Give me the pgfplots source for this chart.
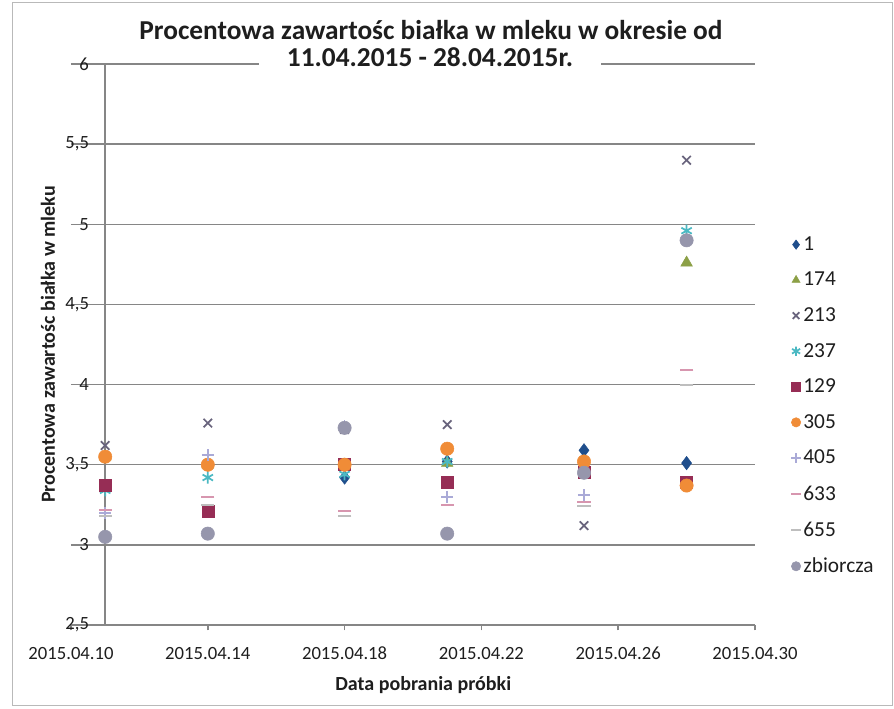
\documentclass[border=0pt]{standalone}
\usepackage{pgfplots}
\pgfplotsset{compat=1.18}
\usepackage{fontspec}
\setmainfont{Carlito}
\definecolor{gridc}{RGB}{134,134,134}
\definecolor{labc}{RGB}{30,30,30}
\definecolor{cA}{RGB}{31,78,140}
\definecolor{cB}{RGB}{140,160,70}
\definecolor{cC}{RGB}{105,100,125}
\definecolor{cD}{RGB}{75,185,195}
\definecolor{cE}{RGB}{150,45,85}
\definecolor{cF}{RGB}{240,140,55}
\definecolor{cG}{RGB}{170,170,215}
\definecolor{cH}{RGB}{215,150,175}
\definecolor{cI}{RGB}{190,190,190}
\definecolor{cJ}{RGB}{150,150,172}
\begin{document}
\begin{tikzpicture}
\path[fill=white] (0,0) rectangle (670.5pt,-531.75pt);
\draw[gray!55, line width=0.75pt] (9pt,-2.25pt) rectangle (669pt,-529.5pt);
\begin{axis}[
  at={(53.25pt,-468.75pt)}, anchor=south west,
  scale only axis, width=513pt, height=420.75pt,
  xmin=10, xmax=30, ymin=2.5, ymax=6,
  xtick={10,14,18,22,26,30},
  xticklabels={2015.04.10,2015.04.14,2015.04.18,2015.04.22,2015.04.26,2015.04.30},
  ytick={2.5,3,3.5,4,4.5,5,5.5,6},
  /pgf/number format/fixed, /pgf/number format/use comma, /pgf/number format/precision=1,
  /pgf/number format/assume math mode=true,
  ymajorgrids, grid style={gridc, line width=1.1pt},
  axis x line*=bottom, axis y line*=left,
  x axis line style={gridc, line width=1.1pt, -},
  y axis line style={draw=none},
  xtick style={gridc, line width=1.1pt}, tick align=outside, major tick length=4pt,
  ytick style={draw=none},
  tick label style={font=\fontsize{14}{16}\selectfont, text=labc},
  yticklabel style={anchor=east, xshift=21pt},
  xticklabel style={yshift=-9pt},
  xlabel={Data pobrania próbki},
  ylabel={Procentowa zawartośc białka w mleku},
  label style={font=\bfseries\fontsize{15}{18}\selectfont, text=labc},
  xlabel style={at={(axis description cs:0.515,-0.107)}, anchor=center},
  ylabel style={at={(axis description cs:-0.0336,0.5)}, anchor=center},
  legend style={at={(axis description cs:1.047,0.702)}, anchor=north west, draw=none, fill=none,
    font=\fontsize{16}{18}\selectfont, text=labc, row sep=10.8pt},
  legend image post style={mark size=3.5pt},
  legend cell align=left,
  clip=false,
]
\draw[gridc, line width=1.1pt] (axis cs:11,2.5) -- (axis cs:11,6);
\addplot[only marks, mark=diamond*, mark size=5pt, mark options={draw=cA, fill=cA}] coordinates {(11,3.55)(14,3.5)(18,3.42)(21,3.52)(25,3.59)(28,3.51)};
\addlegendentry{1}
\addplot[only marks, mark=triangle*, mark size=5pt, mark options={draw=cB, fill=cB}] coordinates {(11,3.55)(14,3.5)(18,3.5)(21,3.51)(25,3.52)(28,4.76)};
\addlegendentry{174}
\addplot[only marks, mark=x, mark size=4.5pt, mark options={draw=cC, line width=1.3pt}] coordinates {(11,3.62)(14,3.76)(18,3.72)(21,3.75)(25,3.12)(28,5.40)};
\addlegendentry{213}
\addplot[only marks, mark=asterisk, mark size=4.5pt, mark options={draw=cD, line width=1.3pt}] coordinates {(11,3.34)(14,3.42)(18,3.44)(21,3.52)(25,3.45)(28,4.96)};
\addlegendentry{237}
\addplot[only marks, mark=square*, mark size=4.5pt, mark options={draw=cE, fill=cE}] coordinates {(11,3.37)(14,3.21)(18,3.5)(21,3.39)(25,3.45)(28,3.39)};
\addlegendentry{129}
\addplot[only marks, mark=*, mark size=5pt, mark options={draw=cF, fill=cF}] coordinates {(11,3.55)(14,3.5)(18,3.5)(21,3.6)(25,3.52)(28,3.37)};
\addlegendentry{305}
\addplot[only marks, mark=+, mark size=4.5pt, mark options={draw=cG, line width=1.3pt}] coordinates {(11,3.2)(14,3.56)(18,3.74)(21,3.3)(25,3.31)(28,4.9)};
\addlegendentry{405}
\addplot[only marks, mark=-, mark size=5pt, mark options={draw=cH, line width=1.6pt}] coordinates {(11,3.22)(14,3.3)(18,3.21)(21,3.25)(25,3.27)(28,4.09)};
\addlegendentry{633}
\addplot[only marks, mark=-, mark size=5pt, mark options={draw=cI, line width=1.6pt}] coordinates {(11,3.18)(14,3.25)(18,3.18)(21,3.07)(25,3.24)(28,4.0)};
\addlegendentry{655}
\addplot[only marks, mark=*, mark size=5pt, mark options={draw=cJ, fill=cJ}] coordinates {(11,3.05)(14,3.07)(18,3.73)(21,3.07)(25,3.45)(28,4.9)};
\addlegendentry{zbiorcza}
\end{axis}
\begin{scope}[x=0.75pt,y=-0.75pt]
\node[font=\bfseries\fontsize{20.5}{24}\selectfont, text=labc] at (431,30) {Procentowa zawartośc białka w mleku w okresie od};
\node[font=\bfseries\fontsize{20.5}{24}\selectfont, text=labc, fill=white, inner xsep=21pt, inner ysep=2pt] at (430,57) {11.04.2015 - 28.04.2015r.};
\end{scope}
\end{tikzpicture}
\end{document}
